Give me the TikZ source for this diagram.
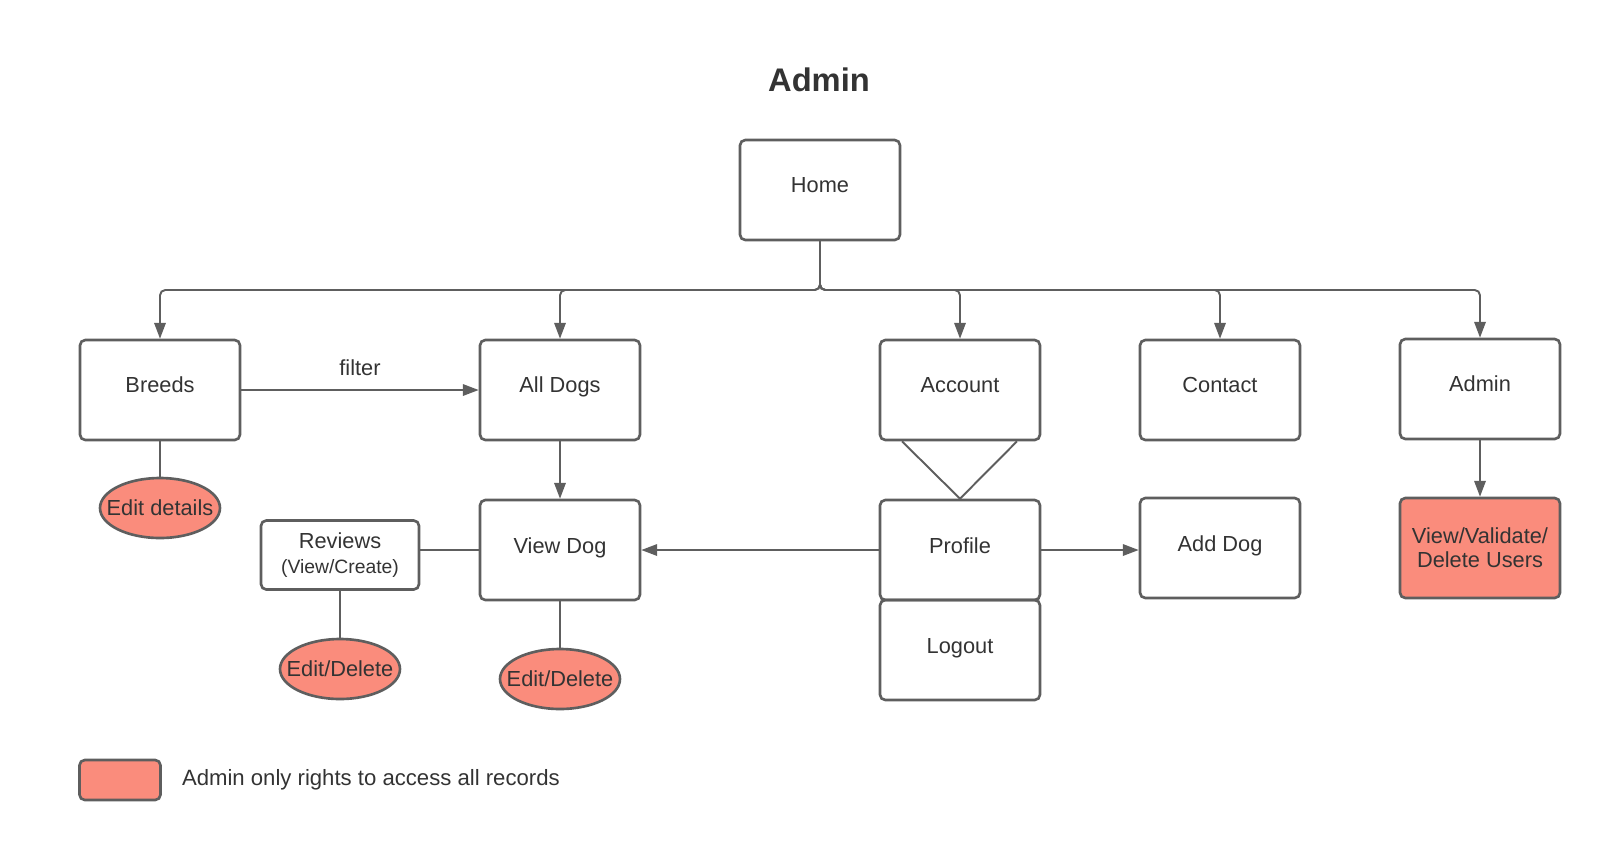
\documentclass[tikz,border=0pt]{standalone}
\usepackage{fontspec}
\setmainfont{Liberation Sans}
\usetikzlibrary{positioning, arrows.meta, shapes.geometric, calc}

\definecolor{linegray}{RGB}{94,94,94}
\definecolor{textgray}{RGB}{51,51,51}
\definecolor{salmon}{RGB}{250,140,124}

\tikzset{
    box/.style={draw=linegray, line width=1.5pt, rounded corners=3pt, minimum width=3.2cm, minimum height=2cm,
        text=textgray, font=\fontsize{12.4}{14.8}\selectfont, align=center},
    page/.style={box, text height=0.75em, text depth=0.41em},
    adminpage/.style={box, fill=salmon},
    action/.style={ellipse, draw=linegray, line width=1.5pt, fill=salmon, minimum width=2.4cm, minimum height=1.2cm,
        inner xsep=-0.3cm, inner ysep=0pt, text=textgray, font=\fontsize{12.4}{14}\selectfont},
    link/.style={draw=linegray, line width=1.1pt},
    arr/.style={link, -{Triangle[length=9pt, width=6.5pt]}},
}

\begin{document}
\begin{tikzpicture}[x=0.02cm, y=-0.02cm]
    \useasboundingbox (0,0) rectangle (1600,850);
    \node[text=textgray, font=\bfseries\fontsize{18.6}{22}\selectfont] (title) at (819,80) {Admin};
    \node[page] (home) at (820,190) {Home};
    \node[page] (breeds) at (160,390) {Breeds};
    \node[page] (alldogs) at (560,390) {All Dogs};
    \node[page] (account) at (960,390) {Account};
    \node[page] (contact) at (1220,390) {Contact};
    \node[page] (admin) at (1480,389) {Admin};
    \node[page] (viewdog) at (560,550) {View Dog};
    \node[page] (profile) at (960,550) {Profile};
    \node[page] (logout) at (960,650) {Logout};
    \node[page] (adddog) at (1220,548) {Add Dog};
    \node[adminpage] (users) at (1480,548) {View/Validate/\\[-1pt]Delete Users};
    \node[box, minimum width=3.16cm, minimum height=1.38cm, inner sep=0pt] (reviews) at (340,555)
        {Reviews\\[-1pt]{\fontsize{11}{13}\selectfont(View/Create)}};
    \node[action] (editbreed) at (160,508) {Edit details};
    \node[action] (editreview) at (340,669) {Edit/Delete};
    \node[action] (editdog) at (560,679) {Edit/Delete};

    \coordinate (bus) at (820,290);
    \foreach \p in {breeds, alldogs, account, contact, admin}
        \draw[arr, rounded corners=3pt] (home.south) -- (home.south |- bus) -| (\p.north);

    \draw[arr] (breeds.east) -- node[above=4pt, text=textgray, font=\fontsize{12.4}{14}\selectfont] {filter} (alldogs.west);
    \draw[arr] (alldogs.south) -- (viewdog.north);
    \draw[arr] (admin.south) -- (users.north);
    \draw[arr] (profile.west) -- (viewdog.east);
    \draw[arr] (profile.east) -- (adddog.west |- profile.east);
    \draw[link] (viewdog.west) -- (reviews.east |- viewdog.west);
    \draw[link] (breeds.south) -- (editbreed.north);
    \draw[link] (reviews.south) -- (editreview.north);
    \draw[link] (viewdog.south) -- (editdog.north);
    \draw[link] ($(account.south)+(-58,0)$) -- (profile.north) -- ($(account.south)+(57,0)$);

    \node[adminpage, minimum width=1.62cm, minimum height=0.8cm] (key) at (120,780) {};
    \node[right=0.28cm of key, text=textgray, font=\fontsize{12.6}{15}\selectfont] (keytext) {Admin only rights to access all records};
\end{tikzpicture}
\end{document}
